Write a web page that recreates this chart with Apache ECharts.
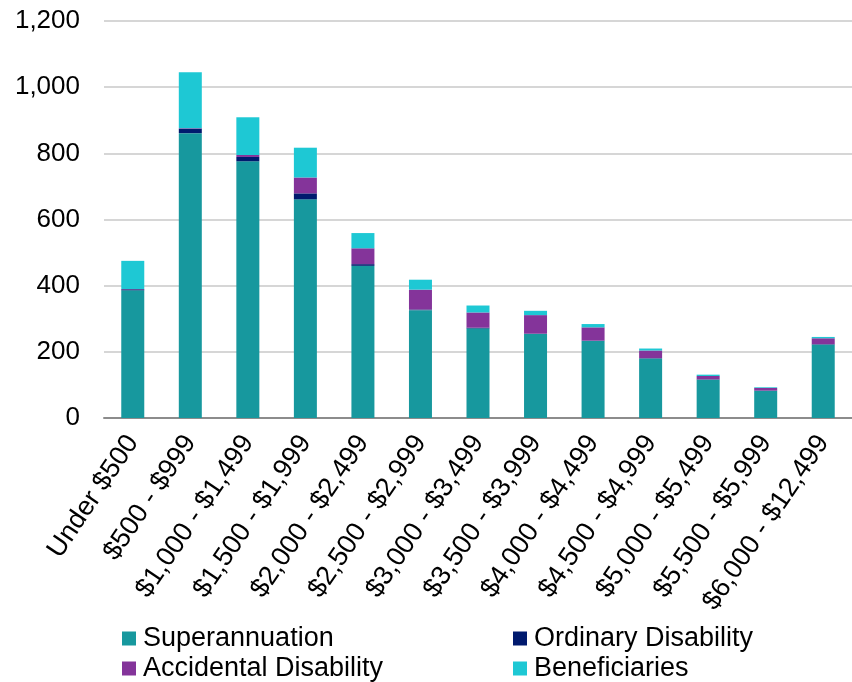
<!DOCTYPE html>
<html>
<head>
<meta charset="utf-8">
<script src="https://cdn.jsdelivr.net/npm/echarts@6/dist/echarts.min.js"></script>
<style>
  html, body { margin: 0; padding: 0; background: #fff; }
  #chart { width: 852px; height: 682px; }
</style>
</head>
<body>
<div id="chart"></div>
<script>
// Monthly pension bands
const categories = [
  'Under $500', '$500 - $999', '$1,000 - $1,499', '$1,500 - $1,999',
  '$2,000 - $2,499', '$2,500 - $2,999', '$3,000 - $3,499', '$3,500 - $3,999',
  '$4,000 - $4,499', '$4,500 - $4,999', '$5,000 - $5,499', '$5,500 - $5,999',
  '$6,000 - $12,499'
];

// Number of pensioners per band, by pension type
const superannuation       = [386, 861, 776, 661, 460, 326, 271, 254, 233, 180, 116, 82, 222];
const ordinaryDisability   = [3, 13, 13, 18, 5, 2, 2, 1, 1, 1, 1, 1, 1];
const accidentalDisability = [1, 2, 6, 48, 48, 60, 46, 56, 40, 23, 10, 8, 18];
const beneficiaries        = [85, 169, 114, 90, 46, 30, 21, 13, 10, 6, 4, 2, 4];

// Value axis ticks
const yMin = 0, yMax = 1200, yStep = 200;

const FONT = '"Liberation Sans", Arial, sans-serif';

const seriesDefs = [
  { name: 'Superannuation', data: superannuation, color: '#17989e' },
  { name: 'Ordinary Disability', data: ordinaryDisability, color: '#001a6e' },
  { name: 'Accidental Disability', data: accidentalDisability, color: '#84349a' },
  { name: 'Beneficiaries', data: beneficiaries, color: '#1ec8d4' }
];

const chart = echarts.init(document.getElementById('chart'), null, { renderer: 'canvas' });

const legendText = { fontFamily: FONT, fontSize: 27, color: '#000', padding: [0, 0, 0, 2] };

chart.setOption({
  animation: false,
  backgroundColor: '#fff',
  grid: { left: 104, top: 21, width: 754, height: 397, containLabel: false },
  legend: [
    {
      data: ['Superannuation', 'Accidental Disability'],
      orient: 'vertical', left: 122, top: 625,
      itemWidth: 14, itemHeight: 14, itemGap: 3,
      icon: 'rect', textStyle: legendText, padding: 0
    },
    {
      data: ['Ordinary Disability', 'Beneficiaries'],
      orient: 'vertical', left: 513, top: 625,
      itemWidth: 14, itemHeight: 14, itemGap: 3,
      icon: 'rect', textStyle: legendText, padding: 0
    }
  ],
  xAxis: {
    type: 'category',
    data: categories,
    axisLine: { lineStyle: { color: '#8c8c8c', width: 2 } },
    axisTick: { show: false },
    axisLabel: {
      interval: 0, rotate: 56, margin: 20,
      fontFamily: FONT, fontSize: 27, color: '#000'
    }
  },
  yAxis: {
    type: 'value',
    min: yMin, max: yMax, interval: yStep,
    axisLine: { show: false },
    axisTick: { show: false },
    splitLine: { lineStyle: { color: '#c8c8c8', width: 1.5 } },
    axisLabel: {
      margin: 24,
      fontFamily: FONT, fontSize: 26, color: '#000',
      formatter: v => v.toLocaleString('en-US')
    }
  },
  series: seriesDefs.map(s => ({
    name: s.name,
    type: 'bar',
    stack: 'total',
    barWidth: 23,
    data: s.data,
    itemStyle: { color: s.color },
    emphasis: { disabled: true }
  }))
});
</script>
</body>
</html>
